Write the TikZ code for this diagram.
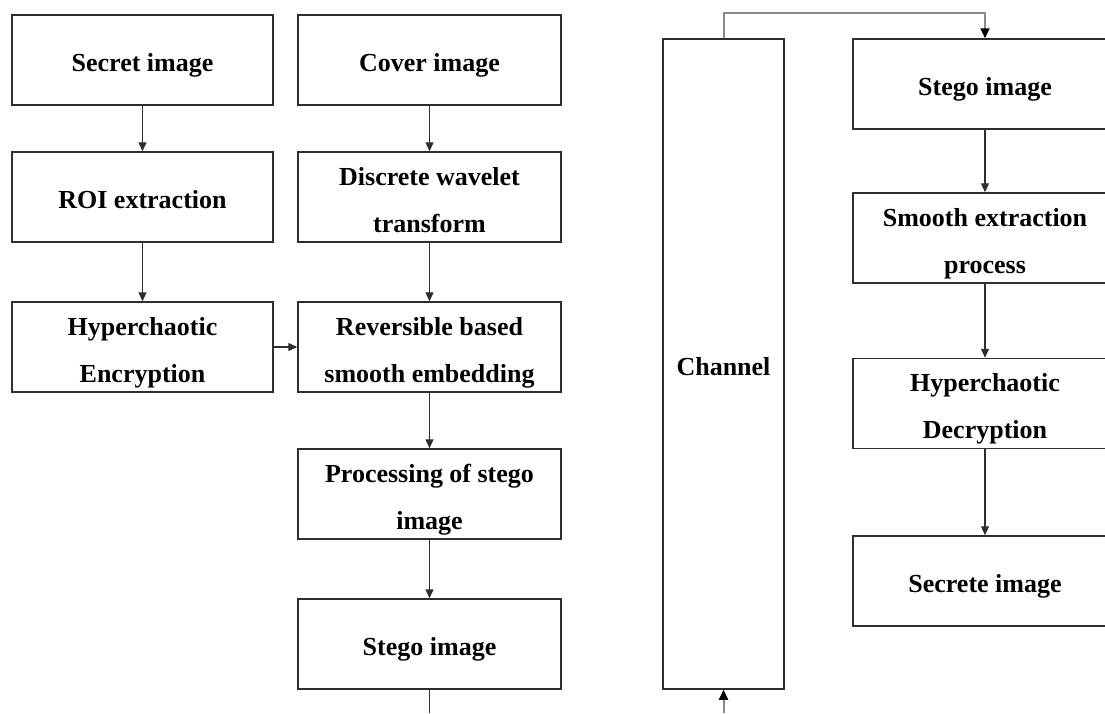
\documentclass[tikz,border=0pt]{standalone}
\usepackage{fontspec}
\setmainfont{Liberation Serif}
\usetikzlibrary{arrows.meta}
\definecolor{edge}{HTML}{2E2E2E}
\definecolor{wire}{HTML}{8A8A8A}
% two centred lines with fixed line boxes, so descenders do not move the text
\newcommand{\pairtext}[2]{\rule{0pt}{26pt}#1\\\raisebox{0pt}[\height][0pt]{#2}\rule[-3pt]{0pt}{3pt}}
\tikzset{
  blk/.style={draw=edge, line width=1.5pt, fill=white, minimum height=90pt,
    align=center, inner sep=0pt, font=\fontsize{26}{47}\selectfont\bfseries},
  one/.style={text height=26pt, text depth=3pt},
  colA/.style={blk, minimum width=261pt},
  colB/.style={blk, minimum width=263pt},
  colR/.style={blk, minimum width=264pt},
  flow/.style={draw=edge, line width=1.3pt, -{Triangle[length=9pt,width=8pt]}},
  plain/.style={draw=edge, line width=1.3pt},
  feed/.style={draw=wire, line width=2pt, -{Triangle[length=10pt,width=9pt,color=black]}}
}
\begin{document}
\begin{tikzpicture}[x=1pt,y=-1pt]
\useasboundingbox (0,0) rectangle (1105,713);
\clip (0,0) rectangle (1105,713);

% sender, left column
\node[colA, one] (sec) at (142.5,60)  {Secret image};
\node[colA, one] (roi) at (142.5,197) {ROI extraction};
\node[colA] (enc) at (142.5,347) {\pairtext{Hyperchaotic}{Encryption}};

% sender, right column
\node[colB, one] (cov)  at (429.5,60)  {Cover image};
\node[colB] (dwt)  at (429.5,197) {\pairtext{Discrete wavelet}{transform}};
\node[colB] (emb)  at (429.5,347) {\pairtext{Reversible based}{smooth embedding}};
\node[colB] (proc) at (429.5,494) {\pairtext{Processing of stego}{image}};
\node[colB, one] (stg)  at (429.5,644) {Stego image};

% channel
\node[blk, one, minimum width=121pt, minimum height=650pt] (chan) at (723.5,364) {Channel};

% receiver
\node[colR, one] (rstg) at (985,84)    {Stego image};
\node[colR] (ext)  at (985,238)   {\pairtext{Smooth extraction}{process}};
\node[colR] (dec)  at (985,403.5) {\pairtext{Hyperchaotic}{Decryption}};
\node[colR, one] (out)  at (985,581)   {Secrete image};

% sender flow
\draw[flow] (sec) -- (roi);
\draw[flow] (roi) -- (enc);
\draw[flow] (cov) -- (dwt);
\draw[flow] (dwt) -- (emb);
\draw[flow] (enc) -- (emb);
\draw[flow] (emb) -- (proc);
\draw[flow] (proc) -- (stg);
\coordinate (sendout) at (429.5,713);
\draw[plain] (stg) -- (sendout);

% channel links
\coordinate (chin) at (723.5,713);
\draw[feed] (chin) -- (chan.south);
\coordinate (over) at (723.5,13);
\draw[feed] (chan.north) -- (over) -| (rstg.north);

% receiver flow
\draw[flow] (rstg) -- (ext);
\draw[flow] (ext) -- (dec);
\draw[flow] (dec) -- (out);
\end{tikzpicture}
\end{document}
